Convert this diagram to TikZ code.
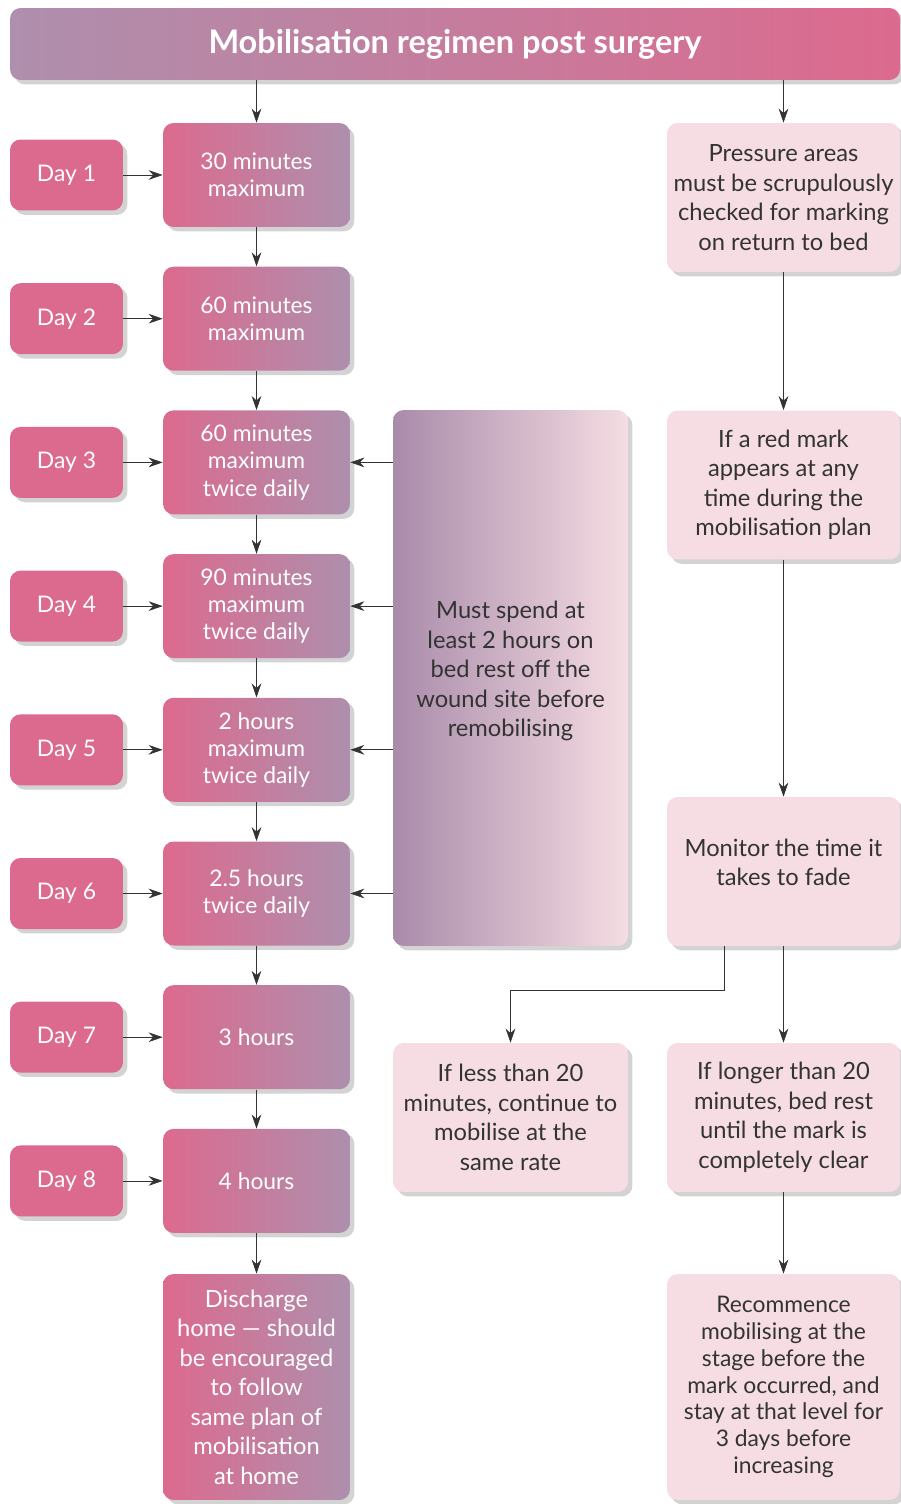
\documentclass[tikz,border=0pt]{standalone}
\usepackage{fontspec}
\setmainfont{Lato}
\usetikzlibrary{shapes,arrows.meta,positioning,shadows,calc}
\definecolor{regpink}{HTML}{DC6A8E}
\definecolor{reglilac}{HTML}{AE8FAD}
\definecolor{restlilac}{HTML}{A98BAA}
\definecolor{palepink}{HTML}{F5DDE3}
\definecolor{darkgray}{HTML}{333333}

\begin{document}
\begin{tikzpicture}[
    x=0.02cm, y=-0.02cm,
    box/.style={rounded corners=6pt, align=center,
                drop shadow={opacity=0.35, shadow xshift=2.5pt, shadow yshift=-2.5pt}},
    titlebox/.style={box, minimum width=17.8cm, minimum height=1.44cm,
                     left color=reglilac, right color=regpink, text=white,
                     font=\fontsize{18.5}{21}\selectfont\bfseries},
    daybox/.style={box, fill=regpink, minimum width=2.26cm, minimum height=1.42cm,
                   text=white, font=\fontsize{13}{15.5}\selectfont},
    stagebox/.style={box, left color=regpink, right color=reglilac,
                     minimum width=3.74cm, minimum height=2.08cm,
                     text=white, font=\fontsize{13}{15.5}\selectfont},
    notebox/.style={box, fill=palepink, minimum width=4.66cm, minimum height=2.98cm,
                    text=darkgray, font=\fontsize{13.5}{16.8}\selectfont},
    arr/.style={-{Stealth[length=8pt, width=5.5pt]}, thin, color=darkgray}
]
\useasboundingbox (0,0) rectangle (901,1504);

% --- title ---
\node[titlebox] (title) at (455,44) {Mobilisation regimen post surgery};

% --- days and stages ---
\foreach \i/\txt in {1/{30 minutes\\maximum}, 2/{60 minutes\\maximum},
                     3/{60 minutes\\maximum\\twice daily}, 4/{90 minutes\\maximum\\twice daily},
                     5/{2 hours\\maximum\\twice daily}, 6/{2.5 hours\\twice daily},
                     7/{3 hours}, 8/{4 hours}} {
  \node[daybox] (d\i) at (66.5,{175+143.7*(\i-1)}) {Day \i};
  \node[stagebox] (m\i) at (256.5,{175+143.7*(\i-1)}) {\txt};
}
\node[stagebox, minimum height=4.52cm, font=\fontsize{13.5}{16.8}\selectfont] (home) at (256.5,1387)
  {Discharge\\home --- should\\be encouraged\\to follow\\same plan of\\mobilisation\\at home};

% --- bed rest ---
\node[box, left color=restlilac, right color=palepink, text=darkgray,
      minimum width=4.7cm, minimum height=10.72cm, font=\fontsize{13.5}{16.8}\selectfont] (rest) at (510.5,678)
  {Must spend at\\least 2 hours on\\bed rest off the\\wound site before\\remobilising\\[-0.23cm]};

% --- pressure area checks ---
\node[notebox] (pres) at (783.5,197.5) {Pressure areas\\must be scrupulously\\checked for marking\\on return to bed};
\node[notebox] (red) at (783.5,485) {If a red mark\\appears at any\\time during the\\mobilisation plan};
\node[notebox] (mon) at (783.5,871.5) {Monitor the time it\\takes to fade\\[-0.23cm]};
\node[notebox, minimum width=4.7cm] (less) at (510.5,1117.5) {If less than 20\\minutes, continue to\\mobilise at the\\same rate};
\node[notebox] (longer) at (783.5,1117.5) {If longer than 20\\minutes, bed rest\\until the mark is\\completely clear};
\node[notebox, minimum height=4.52cm, font=\fontsize{13}{15.3}\selectfont] (rec) at (783.5,1387)
  {Recommence\\mobilising at the\\stage before the\\mark occurred, and\\stay at that level for\\3 days before\\increasing};
\coordinate (split) at (724,990);

% --- connections: left ---
\draw[arr] (title.south -| m1) -- (m1);
\foreach \i [evaluate=\i as \j using int(\i+1)] in {1,...,7} {
  \draw[arr] (m\i) -- (m\j);
}
\draw[arr] (m8) -- (home);
\foreach \i in {1,...,8} {
  \draw[arr] (d\i) -- (m\i);
}
\foreach \i in {3,...,6} {
  \draw[arr] (rest.west |- m\i) -- (m\i.east);
}

% --- connections: right ---
\draw[arr] (title.south -| pres) -- (pres);
\draw[arr] (pres) -- (red);
\draw[arr] (red) -- (mon);
\draw[arr] (split |- mon.south) -- (split) -| (less.north);
\draw[arr] (mon) -- (longer);
\draw[arr] (longer) -- (rec);

\end{tikzpicture}
\end{document}
